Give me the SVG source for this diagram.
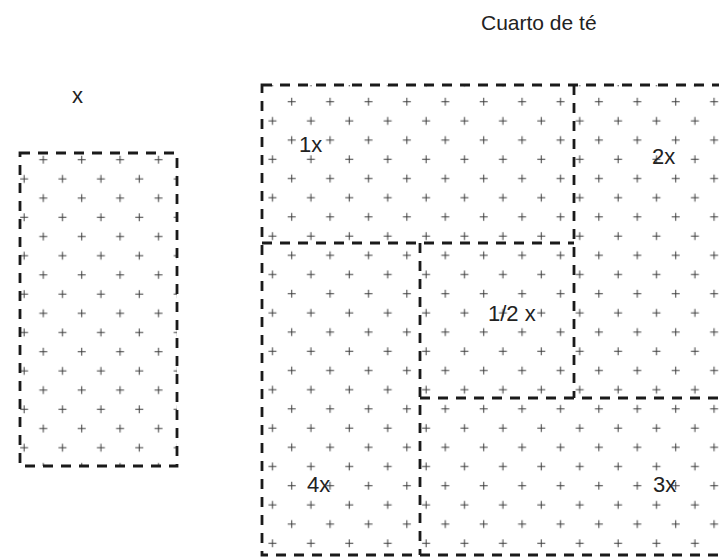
<svg xmlns="http://www.w3.org/2000/svg" width="719" height="558" viewBox="0 0 719 558">
<style>
.lbl{font-family:"Liberation Sans",Arial,sans-serif;font-size:22px;fill:#222222}
.dash{fill:none;stroke:#1a1a1a;stroke-width:2.8;stroke-dasharray:10 8}
.pl{stroke:#3c3c3c;stroke-width:1;fill:none}
</style>
<defs>
<pattern id="plusMain" patternUnits="userSpaceOnUse" x="282.1" y="92.1" width="38.4" height="38.4">
<path class="pl" d="M5.6 9.6h8M9.6 5.6v8M24.8 28.8h8M28.8 24.8v8"/>
</pattern>
<pattern id="plusLeft" patternUnits="userSpaceOnUse" x="33.7" y="150.1" width="38.4" height="38.4">
<path class="pl" d="M5.6 9.6h8M9.6 5.6v8M24.8 28.8h8M28.8 24.8v8"/>
</pattern>
</defs>
<rect width="719" height="558" fill="#ffffff"/>
<text class="lbl" x="481" y="30" style="font-size:21px">Cuarto de té</text>
<g id="room-x">
<rect x="20" y="153" width="157" height="313" fill="url(#plusLeft)"/>
<rect class="dash" x="20" y="153" width="157" height="313"/>
<text class="lbl" x="72" y="103">x</text>
</g>
<g id="tea-room">
<rect x="262" y="85" width="470" height="470" fill="url(#plusMain)"/>
<rect class="dash" x="262" y="85" width="470" height="470"/>
</g>
<g id="connectors">
<line class="dash" x1="574" y1="85" x2="574" y2="398"/>
<line class="dash" x1="262" y1="243" x2="574" y2="243"/>
<line class="dash" x1="420" y1="243" x2="420" y2="555"/>
<line class="dash" x1="420" y1="398" x2="719" y2="398"/>
</g>
<g id="cell-1x"><text class="lbl" x="299" y="152">1x</text></g>
<g id="cell-2x"><text class="lbl" x="652" y="164">2x</text></g>
<g id="cell-half"><text class="lbl" x="488" y="321">1/2 x</text></g>
<g id="cell-4x"><text class="lbl" x="307" y="492">4x</text></g>
<g id="cell-3x"><text class="lbl" x="653" y="492">3x</text></g>
</svg>
